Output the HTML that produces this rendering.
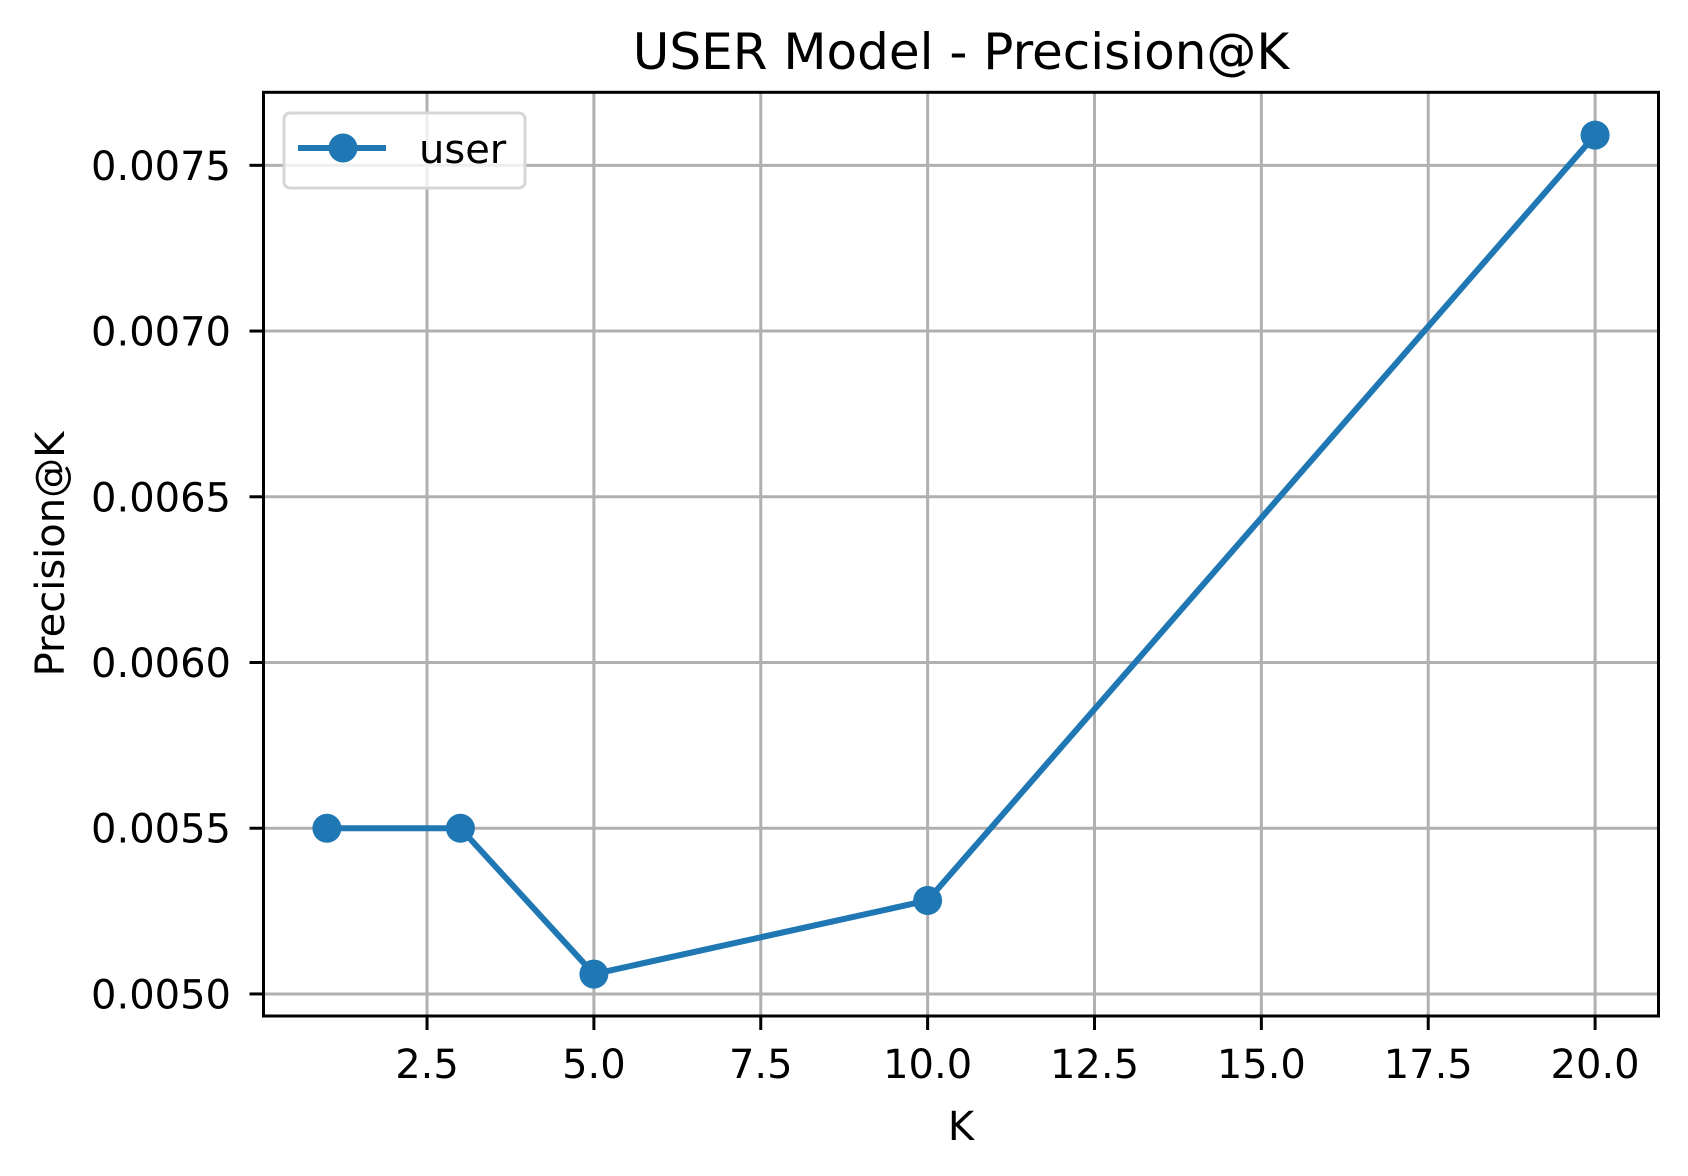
<!DOCTYPE html>
<html><head><meta charset="utf-8"><style>
html,body{margin:0;padding:0;background:#fff;}
svg{display:block;font-family:"DejaVu Sans","Liberation Sans",sans-serif;}
</style></head><body>
<svg id="chart" width="1688" height="1176" viewBox="0 0 1688 1176" xmlns="http://www.w3.org/2000/svg">
<rect width="1688" height="1176" fill="#fff"/>
<g id="grid"></g>
<g id="series"></g>
<rect x="263.5" y="92.3" width="1395" height="923.7" fill="none" stroke="#000" stroke-width="3"/>
<g id="ticks"></g>
<text x="961" y="69" font-size="50" text-anchor="middle">USER Model - Precision@K</text>
<text x="961" y="1140" font-size="40" text-anchor="middle">K</text>
<text transform="translate(64,554) rotate(-90)" font-size="40" text-anchor="middle">Precision@K</text>
<g>
<rect x="284" y="113" width="241" height="75" rx="6" fill="#fff" fill-opacity="0.8" stroke="#d6d6d6" stroke-width="3"/>
<line x1="298" y1="148" x2="386" y2="148" stroke="#1f77b4" stroke-width="6"/>
<circle cx="343" cy="148" r="14.5" fill="#1f77b4"/>
<text x="419" y="163" font-size="40">user</text>
</g>
</svg>
<script>
const kValues = [1, 3, 5, 10, 20];
const precisionValues = [0.0055, 0.0055, 0.00506, 0.005282, 0.007591];
const xTicks = [2.5, 5.0, 7.5, 10.0, 12.5, 15.0, 17.5, 20.0];
const xTickLabels = ["2.5","5.0","7.5","10.0","12.5","15.0","17.5","20.0"];
const yTicks = [0.0050, 0.0055, 0.0060, 0.0065, 0.0070, 0.0075];
const yTickLabels = ["0.0050","0.0055","0.0060","0.0065","0.0070","0.0075"];

const L=263.5, R=1658.5, T=92.3, B=1016;
const xmin=0.05, xmax=20.95;
const ymin=0.0049335, ymax=0.0077203;
const sx = v => L + (v - xmin) / (xmax - xmin) * (R - L);
const sy = v => B - (v - ymin) / (ymax - ymin) * (B - T);
const NS="http://www.w3.org/2000/svg";
function mk(tag, attrs, parent){const e=document.createElementNS(NS,tag);for(const k in attrs)e.setAttribute(k,attrs[k]);parent.appendChild(e);return e;}
const grid=document.getElementById('grid'), ticks=document.getElementById('ticks'), series=document.getElementById('series');

xTicks.forEach((v,i)=>{
  const x=sx(v);
  const g=mk('line',{x1:x,y1:T,x2:x,y2:B,stroke:'#b0b0b0','stroke-width':3},grid);
  
  
  const t=mk('line',{x1:x,y1:B,x2:x,y2:B+14,stroke:'#000','stroke-width':3},ticks);
  
  
  const l=mk('text',{x:x,y:B+62,'font-size':40,'text-anchor':'middle'},ticks);
  
  
  l.textContent=xTickLabels[i];
});
yTicks.forEach((v,i)=>{
  const y=sy(v);
  const g=mk('line',{x1:L,y1:y,x2:R,y2:y,stroke:'#b0b0b0','stroke-width':3},grid);
  
  
  const t=mk('line',{x1:L-14,y1:y,x2:L,y2:y,stroke:'#000','stroke-width':3},ticks);
  
  
  const l=mk('text',{x:231,y:y+14.5,'font-size':40,'text-anchor':'end'},ticks);
  
  
  l.textContent=yTickLabels[i];
});
const pts=kValues.map((k,i)=>sx(k)+','+sy(precisionValues[i])).join(' ');
const line=mk('polyline',{points:pts,fill:'none',stroke:'#1f77b4','stroke-width':6,'stroke-linejoin':'round','stroke-linecap':'square'},series);


kValues.forEach((k,i)=>{
  const c=mk('circle',{cx:sx(k),cy:sy(precisionValues[i]),r:14.5,fill:'#1f77b4'},series);
  
  
});
</script>
</body></html>
